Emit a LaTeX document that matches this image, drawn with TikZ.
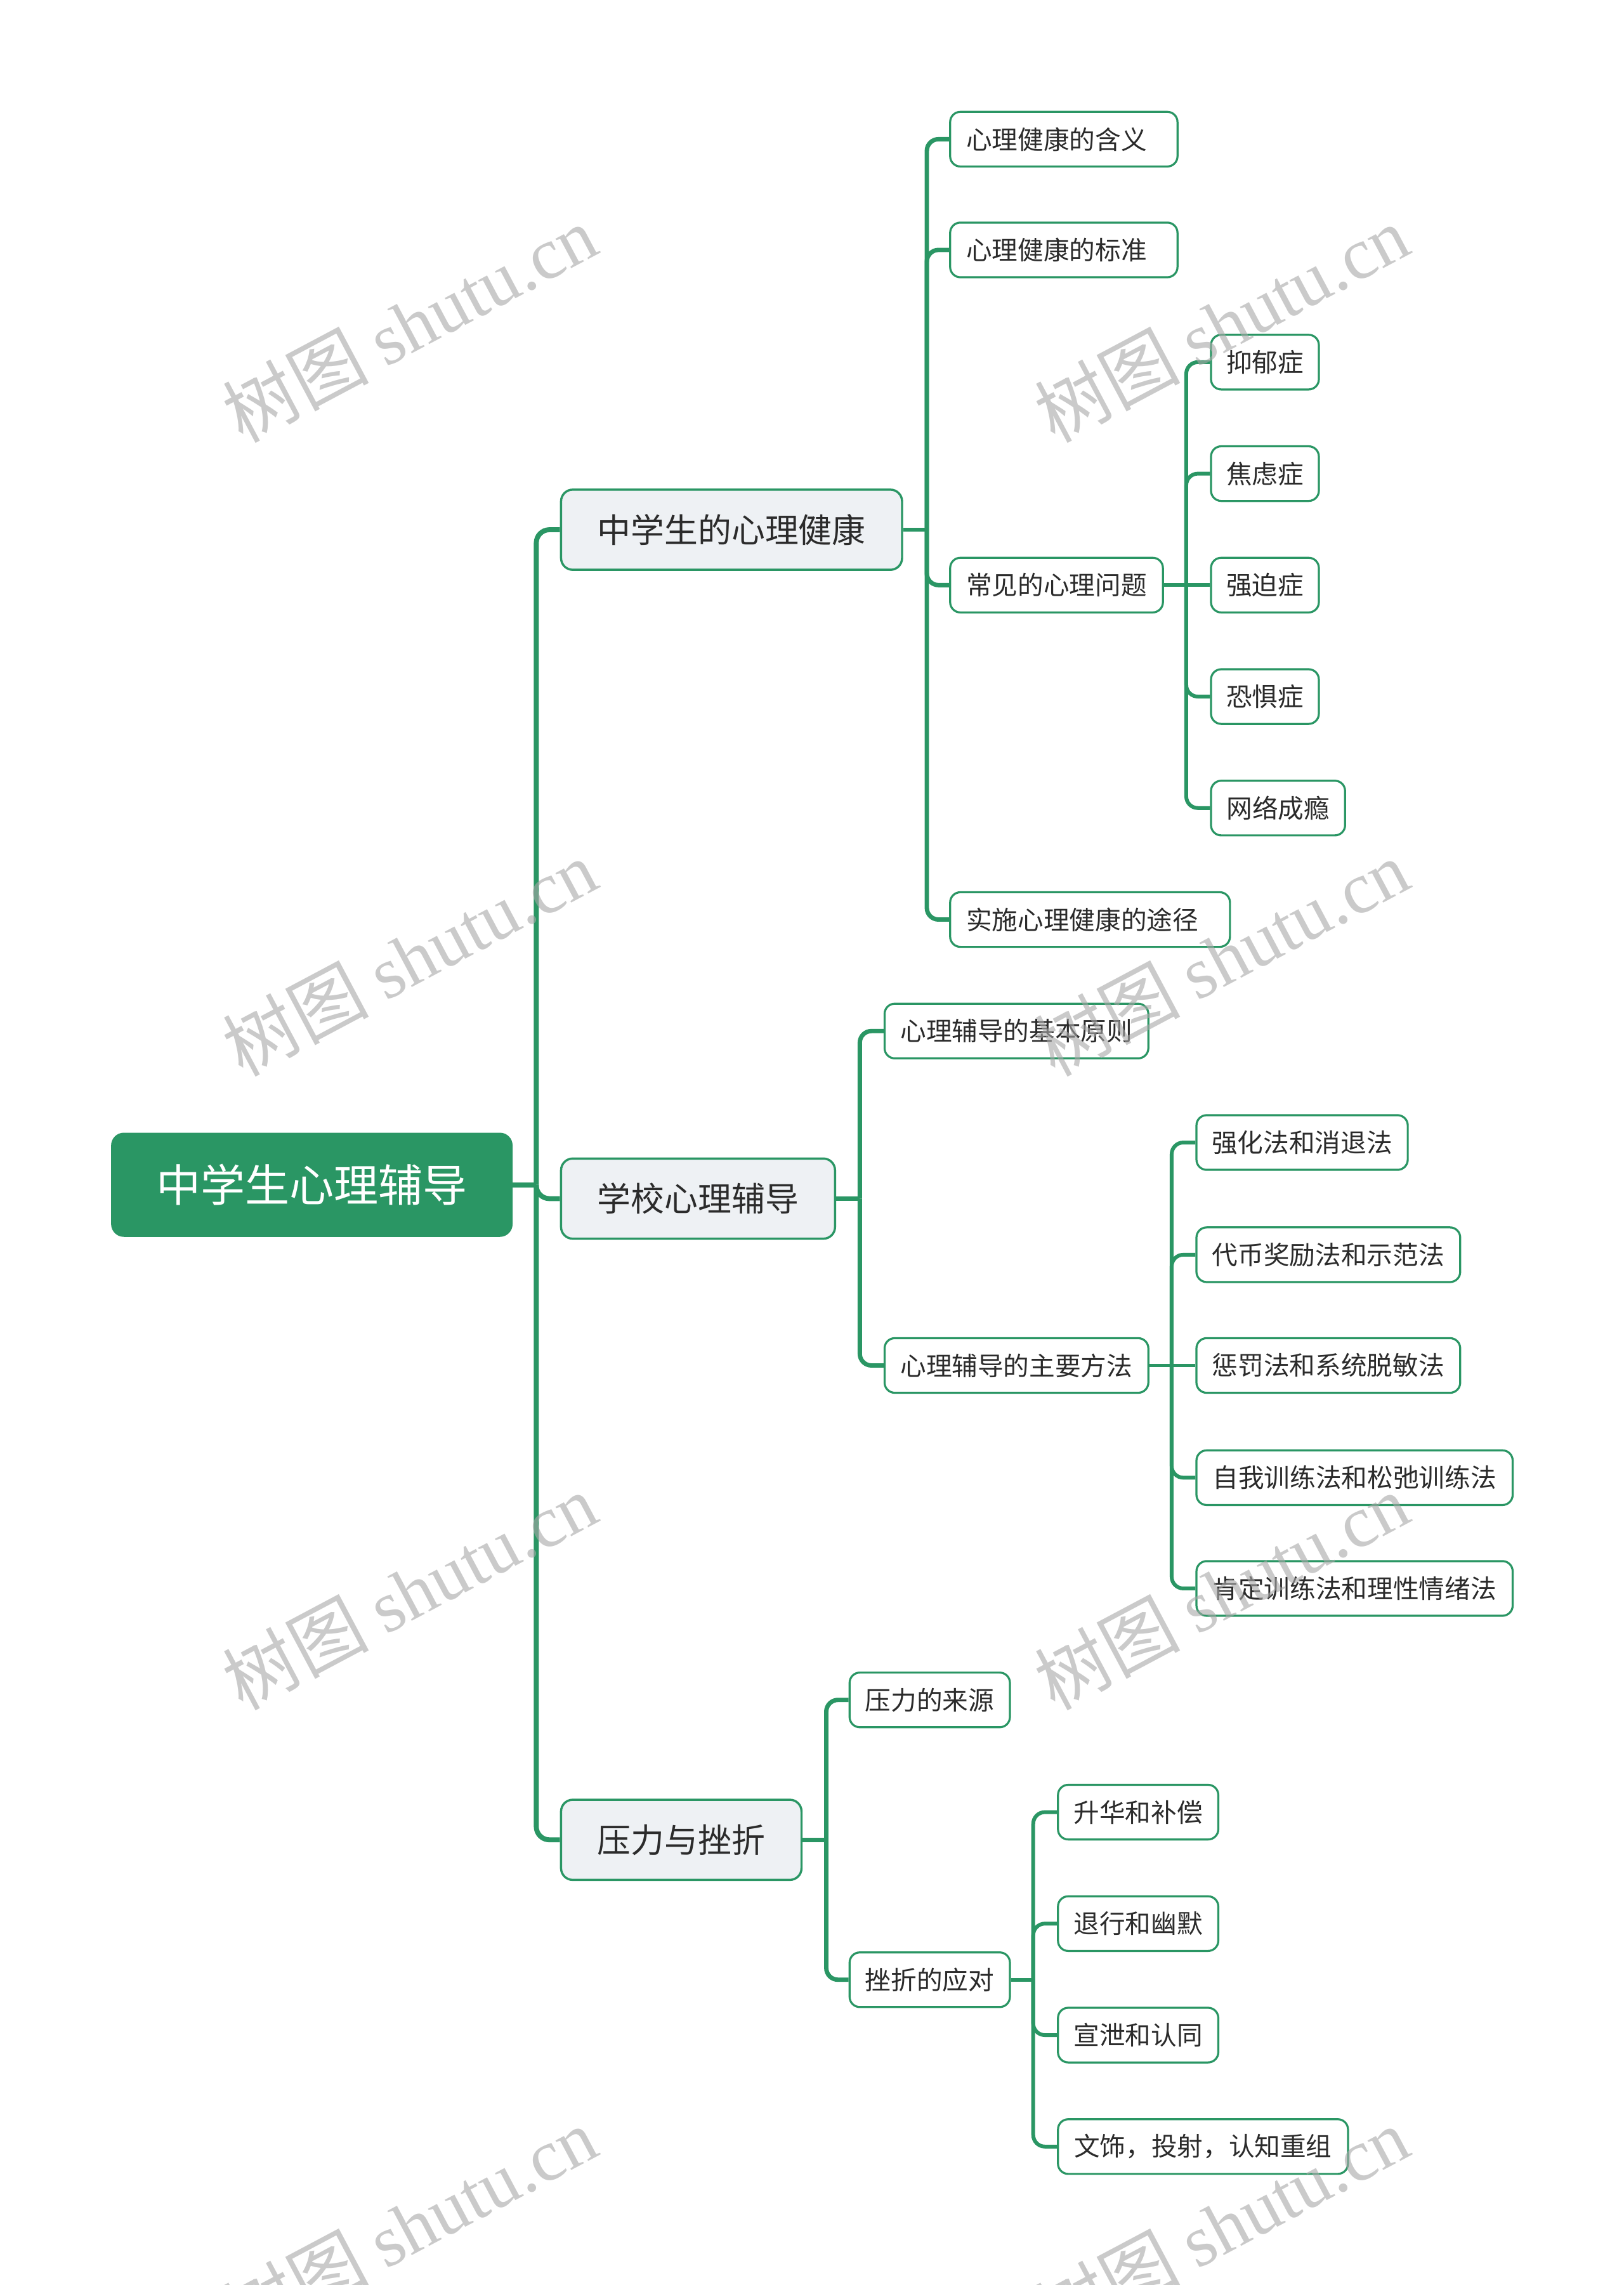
\documentclass[tikz,border=0pt]{standalone}
\usepackage{fontspec}
\setmainfont{Noto Sans CJK SC}
\newfontfamily\wmlatin{Liberation Serif}
\definecolor{mgreen}{HTML}{2A9664}
\definecolor{lgray}{HTML}{EEF1F4}
\definecolor{txt}{HTML}{2B2B2B}
\definecolor{wmgray}{HTML}{A8A8A8}
\tikzset{
  rootbox/.style={rounded corners=8pt, fill=mgreen, draw=mgreen, line width=1.5pt, text=white,
    font=\fontsize{30.5}{34}\selectfont, inner sep=0pt, minimum height=70pt},
  lonebox/.style={rounded corners=8pt, fill=lgray, draw=mgreen, line width=1.5pt, text=txt,
    font=\fontsize{23}{26}\selectfont, inner sep=0pt, minimum height=55pt},
  ltwobox/.style={rounded corners=7pt, fill=white, draw=mgreen, line width=1.4pt, text=txt,
    font=\fontsize{17.7}{20}\selectfont, inner sep=0pt, minimum height=37.5pt},
  leftbox/.style={ltwobox, inner xsep=11pt, text width=#1, align=left},
  lkzero/.style={draw=mgreen, line width=3.4pt, rounded corners=9pt},
  lkone/.style={draw=mgreen, line width=3pt, rounded corners=8pt},
  lktwo/.style={draw=mgreen, line width=2.6pt, rounded corners=8pt},
  wmark/.style={rotate=28, text=wmgray, opacity=0.6, font=\fontsize{50}{56}\selectfont, inner sep=0pt}
}
\begin{document}
\begin{tikzpicture}[x=1pt, y=-1pt]
\useasboundingbox[fill=white] (0,0) rectangle (1114,1568);

% nodes
\node[rootbox, minimum width=274pt] (root) at (214,813) {中学生心理辅导};

\node[lonebox, minimum width=234pt] (La) at (502,363.5) {中学生的心理健康};
\node[lonebox, minimum width=188pt] (Lb) at (479,822.5) {学校心理辅导};
\node[lonebox, minimum width=165pt] (Lc) at (467.5,1262.5) {压力与挫折};

\node[leftbox=134pt] (a1) at (730,95.5) {心理健康的含义};
\node[leftbox=134pt] (a2) at (730,171.5) {心理健康的标准};
\node[ltwobox, minimum width=146pt] (a3) at (725,401.5) {常见的心理问题};
\node[leftbox=170pt] (a4) at (748,631) {实施心理健康的途径};

\node[ltwobox, minimum width=74pt] (p1) at (868,248.5) {抑郁症};
\node[ltwobox, minimum width=74pt] (p2) at (868,325) {焦虑症};
\node[ltwobox, minimum width=74pt] (p3) at (868,401.5) {强迫症};
\node[ltwobox, minimum width=74pt] (p4) at (868,478) {恐惧症};
\node[ltwobox, minimum width=92pt] (p5) at (877,554.5) {网络成瘾};

\node[ltwobox, minimum width=181pt] (b1) at (697.5,707.5) {心理辅导的基本原则};
\node[ltwobox, minimum width=181pt] (b2) at (697.5,937) {心理辅导的主要方法};

\node[ltwobox, minimum width=145pt] (m1) at (893.5,784) {强化法和消退法};
\node[ltwobox, minimum width=181pt] (m2) at (911.5,861) {代币奖励法和示范法};
\node[ltwobox, minimum width=181pt] (m3) at (911.5,937) {惩罚法和系统脱敏法};
\node[ltwobox, minimum width=217pt] (m4) at (929.5,1014) {自我训练法和松弛训练法};
\node[ltwobox, minimum width=217pt] (m5) at (929.5,1090) {肯定训练法和理性情绪法};

\node[ltwobox, minimum width=110pt] (c1) at (638,1166.5) {压力的来源};
\node[ltwobox, minimum width=110pt] (c2) at (638,1358.5) {挫折的应对};

\node[ltwobox, minimum width=110pt] (s1) at (781,1243.5) {升华和补偿};
\node[ltwobox, minimum width=110pt] (s2) at (781,1320) {退行和幽默};
\node[ltwobox, minimum width=110pt] (s3) at (781,1396.5) {宣泄和认同};
\node[ltwobox, minimum width=199pt] (s4) at (825.5,1473) {文饰，投射，认知重组};

% junctions
\coordinate (t0) at (368,813);
\coordinate (t1) at (636,363.5);
\coordinate (t2) at (814,401.5);
\coordinate (t3) at (590,822.5);
\coordinate (t4) at (804,937);
\coordinate (t5) at (567,1262.5);
\coordinate (t6) at (709,1358.5);

% connectors level 0
\draw[lkzero] (root.east) -- (t0);
\draw[lkzero] (t0) |- (La.west);
\draw[lkzero] (t0) |- (Lb.west);
\draw[lkzero] (t0) |- (Lc.west);

% level 1
\draw[lkone] (La.east) -- (t1);
\draw[lkone] (t1) |- (a1.west);
\draw[lkone] (t1) |- (a2.west);
\draw[lkone] (t1) |- (a3.west);
\draw[lkone] (t1) |- (a4.west);

\draw[lkone] (Lb.east) -- (t3);
\draw[lkone] (t3) |- (b1.west);
\draw[lkone] (t3) |- (b2.west);

\draw[lkone] (Lc.east) -- (t5);
\draw[lkone] (t5) |- (c1.west);
\draw[lkone] (t5) |- (c2.west);

% level 2
\draw[lktwo] (a3.east) -- (t2);
\draw[lktwo] (t2) |- (p1.west);
\draw[lktwo] (t2) |- (p2.west);
\draw[lktwo] (t2) -- (p3.west);
\draw[lktwo] (t2) |- (p4.west);
\draw[lktwo] (t2) |- (p5.west);

\draw[lktwo] (b2.east) -- (t4);
\draw[lktwo] (t4) |- (m1.west);
\draw[lktwo] (t4) |- (m2.west);
\draw[lktwo] (t4) -- (m3.west);
\draw[lktwo] (t4) |- (m4.west);
\draw[lktwo] (t4) |- (m5.west);

\draw[lktwo] (c2.east) -- (t6);
\draw[lktwo] (t6) |- (s1.west);
\draw[lktwo] (t6) |- (s2.west);
\draw[lktwo] (t6) |- (s3.west);
\draw[lktwo] (t6) |- (s4.west);

% watermarks
\foreach \wx/\wy [count=\i] in {281/222, 838/222, 281/657, 838/657, 281/1092, 838/1092, 281/1527, 838/1527}{
  \node[wmark] (wm\i) at (\wx,\wy) {树图 {\wmlatin shutu.cn}};
}
\end{tikzpicture}
\end{document}
